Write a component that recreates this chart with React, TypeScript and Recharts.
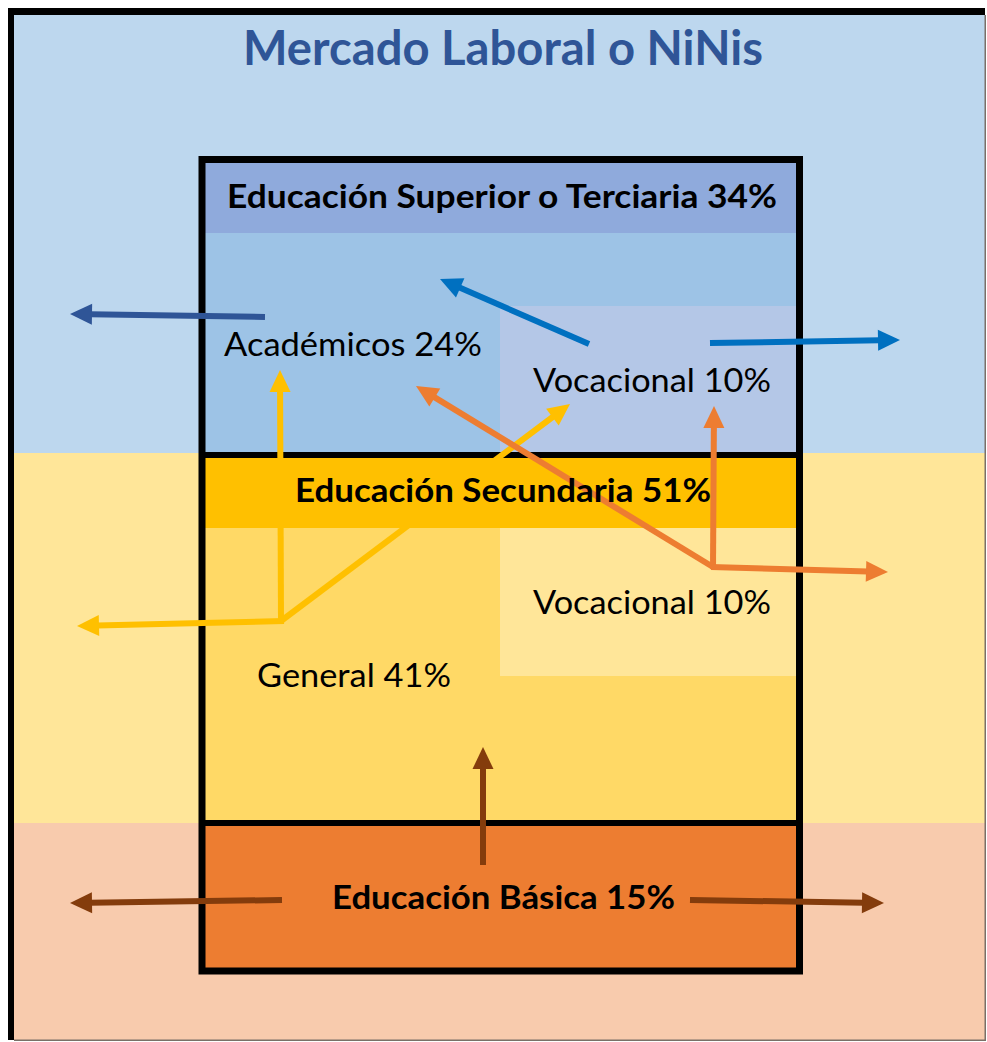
import { ComposedChart, XAxis, YAxis, ReferenceArea, ReferenceLine, ReferenceDot } from "recharts";

const W = 987;
const H = 1042;
const FONT = "Lato, 'Open Sans', sans-serif";

// content
const TITLE = "Mercado Laboral o NiNis";
const levelNames = ["Educación Superior o Terciaria", "Educación Secundaria", "Educación Básica"];
const levelShares = [34, 51, 15];
const trackNames = ["Académicos", "Vocacional", "Vocacional", "General"];
const trackShares = [24, 10, 10, 41];

// layout (pixel space, y grows downward)
const bands = [
  { y1: 15, y2: 453, fill: "#BDD7EE" },
  { y1: 453, y2: 823, fill: "#FFE699" },
  { y1: 823, y2: 1040, fill: "#F8CBAD" },
];

const panels = [
  { x1: 205, x2: 796, y1: 163, y2: 452, fill: "#9DC3E6" },
  { x1: 205, x2: 796, y1: 163, y2: 233, fill: "#8FAADC" },
  { x1: 500, x2: 796, y1: 306, y2: 452, fill: "#B4C7E7" },
  { x1: 205, x2: 796, y1: 458, y2: 820, fill: "#FFD966" },
  { x1: 205, x2: 796, y1: 458, y2: 528, fill: "#FFC000" },
  { x1: 500, x2: 796, y1: 528, y2: 676, fill: "#FFE699" },
  { x1: 205, x2: 796, y1: 826, y2: 968, fill: "#ED7D31" },
];

// left x, baseline y, drawn width
const titlePos = { x: 243, y: 65, w: 520 };
const levelPos = [
  { x: 227, y: 208, w: 550 },
  { x: 295, y: 502, w: 416 },
  { x: 332, y: 909, w: 343 },
];
const trackPos = [
  { x: 224, y: 356, w: 258 },
  { x: 533, y: 392, w: 238 },
  { x: 533, y: 614, w: 238 },
  { x: 257, y: 687, w: 194 },
];

const arrows = [
  { color: "#2F5597", from: [265, 317], to: [70, 314] },
  { color: "#0070C0", from: [589, 344], to: [440, 279] },
  { color: "#0070C0", from: [710, 343], to: [900, 340] },
  { color: "#FFC000", from: [281, 621], to: [280, 370] },
  { color: "#FFC000", from: [284, 621], to: [77, 626] },
  { color: "#FFC000", from: [281, 621], to: [570, 404] },
  { color: "#ED7D31", from: [713, 567], to: [416, 386] },
  { color: "#ED7D31", from: [713, 569], to: [714, 406] },
  { color: "#ED7D31", from: [711, 567], to: [888, 572] },
  { color: "#843C0C", from: [483, 865], to: [483, 747] },
  { color: "#843C0C", from: [282, 900], to: [70, 903] },
  { color: "#843C0C", from: [690, 900], to: [884, 903] },
];

const arrowShape = (color: string) => (p: any) => {
  const { x1, y1, x2, y2 } = p;
  const dx = x2 - x1;
  const dy = y2 - y1;
  const len = Math.hypot(dx, dy) || 1;
  const ux = dx / len;
  const uy = dy / len;
  const hl = 22;
  const hw = 10.5;
  const bx = x2 - ux * hl;
  const by = y2 - uy * hl;
  const pts = `${x2},${y2} ${bx - uy * hw},${by + ux * hw} ${bx + uy * hw},${by - ux * hw}`;
  return (
    <g>
      <line x1={x1} y1={y1} x2={bx + ux * 2} y2={by + uy * 2} stroke={color} strokeWidth={6} />
      <polygon points={pts} fill={color} />
    </g>
  );
};

const textShape = (text: string, w: number, opts: { size: number; bold?: boolean; color?: string }) => (p: any) => (
  <text
    x={p.cx}
    y={p.cy}
    textAnchor="start"
    textLength={w}
    lengthAdjust="spacingAndGlyphs"
    fontFamily={FONT}
    fontSize={opts.size}
    fontWeight={opts.bold ? 700 : 400}
    fill={opts.color || "#000"}
  >
    {text}
  </text>
);

export default function App() {
  return (
    <div style={{ position: "absolute", left: 0, top: 0, width: W, height: H, background: "#fff" }}>
      <ComposedChart width={W} height={H} margin={{ top: 0, right: 0, bottom: 0, left: 0 }}>
        <XAxis type="number" dataKey="x" domain={[0, W]} hide allowDataOverflow />
        <YAxis type="number" dataKey="y" domain={[0, H]} reversed hide allowDataOverflow />

        {bands.map((b, i) => (
          <ReferenceArea key={"b" + i} x1={14} x2={985} y1={b.y1} y2={b.y2} fill={b.fill} fillOpacity={1} stroke="none" ifOverflow="visible" />
        ))}
        {/* outer frame */}
        <ReferenceArea x1={8} x2={985} y1={8} y2={15} fill="#000" fillOpacity={1} stroke="none" ifOverflow="visible" />
        <ReferenceArea x1={8} x2={14} y1={8} y2={1040} fill="#000" fillOpacity={1} stroke="none" ifOverflow="visible" />
        <ReferenceArea x1={984.5} x2={986} y1={15} y2={1041} fill="#7a7068" fillOpacity={1} stroke="none" ifOverflow="visible" />
        <ReferenceArea x1={14} x2={986} y1={1039.5} y2={1041} fill="#7a7068" fillOpacity={1} stroke="none" ifOverflow="visible" />

        {panels.map((r, i) => (
          <ReferenceArea key={"p" + i} x1={r.x1} x2={r.x2} y1={r.y1} y2={r.y2} fill={r.fill} fillOpacity={1} stroke="none" ifOverflow="visible" />
        ))}
        {/* box borders */}
        <ReferenceArea x1={202} x2={799.5} y1={159.5} y2={971} fill="none" stroke="#000" strokeWidth={7} ifOverflow="visible" />
        <ReferenceArea x1={202} x2={799.5} y1={452} y2={458} fill="#000" fillOpacity={1} stroke="none" ifOverflow="visible" />
        <ReferenceArea x1={202} x2={799.5} y1={820} y2={826} fill="#000" fillOpacity={1} stroke="none" ifOverflow="visible" />

        <ReferenceDot x={titlePos.x} y={titlePos.y} r={0} ifOverflow="visible"
          shape={textShape(TITLE, titlePos.w, { size: 47, bold: true, color: "#2F5597" })} />
        {levelNames.map((n, i) => (
          <ReferenceDot key={"l" + i} x={levelPos[i].x} y={levelPos[i].y} r={0} ifOverflow="visible"
            shape={textShape(`${n} ${levelShares[i]}%`, levelPos[i].w, { size: 32, bold: true })} />
        ))}
        {trackNames.map((n, i) => (
          <ReferenceDot key={"t" + i} x={trackPos[i].x} y={trackPos[i].y} r={0} ifOverflow="visible"
            shape={textShape(`${n} ${trackShares[i]}%`, trackPos[i].w, { size: 33 })} />
        ))}

        {arrows.map((a, i) => (
          <ReferenceLine key={"a" + i} ifOverflow="visible"
            segment={[{ x: a.from[0], y: a.from[1] }, { x: a.to[0], y: a.to[1] }]}
            shape={arrowShape(a.color)} />
        ))}
      </ComposedChart>
    </div>
  );
}
